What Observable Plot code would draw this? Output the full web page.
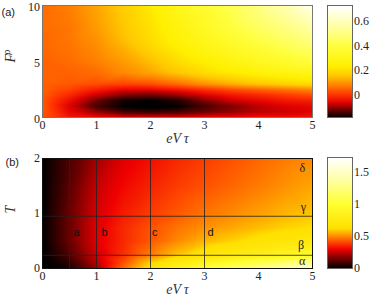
<!DOCTYPE html>
<html><head><meta charset="utf-8">
<script src="https://cdn.jsdelivr.net/npm/d3@7"></script>
<script src="https://cdn.jsdelivr.net/npm/@observablehq/plot@0.6"></script>
<style>
body{margin:0;background:#fff;}
#wrap{position:relative;width:374px;height:300px;overflow:hidden;background:#fff;}
#wrap > svg{position:absolute;}
</style></head><body><div id="wrap"></div>
<script>
// ---------- data ----------
const eVtauA = [0,0.5,1,1.5,2,2.5,3,3.5,4,4.5,5];
const FrhoA = [0,0.5,1,1.5,2,2.5,3,4,5,6,7,8,9,10];
const valuesA = [
  [0.03,-0.03,-0.05,-0.06,-0.06,-0.06,-0.05,-0.05,-0.04,-0.04,-0.03],
  [0.04,-0.05,-0.10,-0.14,-0.15,-0.14,-0.12,-0.10,-0.08,-0.07,-0.06],
  [0.04,-0.06,-0.14,-0.18,-0.19,-0.18,-0.14,-0.11,-0.08,-0.06,-0.05],
  [0.04,-0.04,-0.12,-0.17,-0.18,-0.16,-0.11,-0.07,-0.05,-0.03,-0.02],
  [0.045,-0.01,-0.07,-0.11,-0.12,-0.10,-0.06,-0.03,-0.01,0.01,0.03],
  [0.05,0.02,-0.02,-0.05,-0.05,-0.03,0.00,0.03,0.05,0.07,0.09],
  [0.05,0.04,0.03,0.02,0.03,0.06,0.10,0.13,0.16,0.18,0.20],
  [0.05,0.05,0.06,0.09,0.12,0.16,0.20,0.23,0.26,0.28,0.30],
  [0.05,0.06,0.08,0.11,0.15,0.20,0.24,0.28,0.32,0.35,0.39],
  [0.055,0.065,0.09,0.13,0.18,0.23,0.28,0.32,0.36,0.41,0.45],
  [0.055,0.07,0.10,0.15,0.20,0.26,0.31,0.36,0.41,0.46,0.51],
  [0.06,0.07,0.11,0.16,0.21,0.27,0.33,0.39,0.45,0.50,0.56],
  [0.06,0.075,0.115,0.165,0.22,0.29,0.34,0.41,0.48,0.54,0.62],
  [0.06,0.08,0.12,0.17,0.23,0.30,0.36,0.43,0.50,0.58,0.68]
];
const eVtauB = [0,0.25,0.5,1,1.5,2,2.5,3,3.5,4,4.5,5];
const TB = [0,0.1,0.25,0.5,0.75,1,1.5,2];
const valuesB = [
  [0,0.01,0.04,0.20,0.45,0.65,0.85,1.00,1.15,1.30,1.45,1.60],
  [0,0.02,0.06,0.23,0.42,0.60,0.75,0.88,1.00,1.10,1.20,1.30],
  [0,0.05,0.11,0.26,0.37,0.48,0.58,0.66,0.73,0.80,0.87,0.95],
  [0,0.07,0.14,0.28,0.36,0.43,0.50,0.56,0.60,0.65,0.68,0.72],
  [0,0.07,0.14,0.28,0.36,0.42,0.47,0.51,0.54,0.57,0.60,0.62],
  [0,0.07,0.14,0.27,0.34,0.39,0.43,0.47,0.50,0.53,0.56,0.58],
  [0,0.06,0.12,0.25,0.31,0.35,0.39,0.42,0.45,0.48,0.51,0.54],
  [0,0.05,0.10,0.21,0.28,0.32,0.36,0.39,0.42,0.45,0.48,0.50]
];
const xTicks = [0,1,2,3,4,5];
const yTicksA = [0,5,10];
const yTicksB = [0,1,2];
const cbTicksA = [0,0.2,0.4,0.6];
const cbTicksB = [0,0.5,1,1.5];
const cutsX = [0.5,1,2,3];
const cutsT = [0.95,0.24];
const regionLabels = ["a","b","c","d"];
const regionX = [0.63,1.15,2.08,3.11];
const regionT = [0.655,0.655,0.655,0.655];
const greekLabels = ["δ","γ","β","α"];
const greekX = [4.81,4.83,4.79,4.81];
const greekT = [1.82,1.11,0.42,0.13];
const cbRangeA = [-0.18,0.725];
const cbRangeB = [0,1.72];
const xLabel = "eV\u2009τ";

// ---------- styles ----------
const colorA = {type:"linear", clamp:true,
  domain:[-0.18,-0.12,-0.06,0,0.08,0.16,0.24,0.4,0.55,0.72],
  range:["#000000","#6a0000","#e00000","#ff3000","#ff8000","#ffc800","#fff000","#ffff40","#ffffa0","#ffffff"]};
const colorB = {type:"linear", clamp:true,
  domain:[0,0.15,0.3,0.42,0.52,0.62,1.0,1.35,1.72],
  range:["#000000","#700000","#f00000","#ff5000","#ff9800","#ffe000","#ffff30","#ffffa0","#ffffff"]};
const serif = "Liberation Serif";
const sans = "Liberation Sans";
const tick = {tickSize:0,label:null,tickFormat:d=>String(d),fill:"#222",fontFamily:serif,fontSize:12};

const gridA = FrhoA.flatMap((f,i)=>eVtauA.map((e,j)=>({x:e,y:f,v:valuesA[i][j]})));
const gridB = TB.flatMap((t,i)=>eVtauB.map((e,j)=>({x:e,y:t,v:valuesB[i][j]})));

const wrap = document.getElementById("wrap");
function place(svg,left,top){svg.style.left=left+"px";svg.style.top=top+"px";wrap.appendChild(svg);}

const plotA = Plot.plot({
  width:320,height:150,marginLeft:42,marginRight:8,marginTop:5,marginBottom:33,
  style:{fontFamily:serif,fontSize:"12px",background:"transparent"},
  x:{domain:[0,5]}, y:{domain:[0,10]}, color:colorA,
  marks:[
    Plot.raster(gridA,{x:"x",y:"y",fill:"v",interpolate:"barycentric",x1:0,x2:5,y1:0,y2:10,pixelSize:1}),
    Plot.frame({stroke:"#777"}),
    Plot.axisX({...tick,ticks:xTicks,tickPadding:2.5}),
    Plot.axisY({...tick,ticks:yTicksA,tickPadding:2.5,dy:2}),
    Plot.text([xLabel],{frameAnchor:"bottom",dy:25,text:d=>d,fontFamily:serif,fontStyle:"italic",fontSize:14,fill:"#333"}),
    Plot.text(["F"],{frameAnchor:"left",dx:-32,dy:1,text:d=>d,rotate:-90,fontFamily:serif,fontStyle:"italic",fontSize:14,fill:"#333"}),
    Plot.text(["ρ"],{frameAnchor:"left",dx:-36,dy:-7,text:d=>d,rotate:-90,fontFamily:serif,fontStyle:"italic",fontSize:10,fill:"#333"}),
    Plot.text(["(a)"],{frameAnchor:"top-left",dx:-41,dy:3,text:d=>d,textAnchor:"start",fontFamily:sans,fontSize:11,fill:"#222"})
  ]
});
place(plotA,0,0);

const cbA = Plot.plot({
  width:54,height:150,marginLeft:7,marginRight:22,marginTop:5,marginBottom:33,
  style:{fontFamily:serif,fontSize:"12px",background:"transparent"},
  x:{domain:[0,1],axis:null}, y:{domain:cbRangeA}, color:colorA,
  marks:[
    Plot.raster({x1:0,x2:1,y1:cbRangeA[0],y2:cbRangeA[1],fill:(x,y)=>y,pixelSize:1}),
    Plot.frame({stroke:"#666"}),
    Plot.axisY({...tick,anchor:"right",ticks:cbTicksA,tickPadding:1.5})
  ]
});
place(cbA,320,0);

const plotB = Plot.plot({
  width:320,height:150,marginLeft:42,marginRight:8,marginTop:8,marginBottom:32,
  style:{fontFamily:serif,fontSize:"12px",background:"transparent"},
  x:{domain:[0,5]}, y:{domain:[0,2]}, color:colorB,
  marks:[
    Plot.raster(gridB,{x:"x",y:"y",fill:"v",interpolate:"barycentric",x1:0,x2:5,y1:0,y2:2,pixelSize:1}),
    Plot.ruleX(cutsX,{stroke:"#222",strokeWidth:0.8}),
    Plot.ruleY(cutsT,{stroke:"#222",strokeWidth:0.8}),
    Plot.frame({stroke:"#111"}),
    Plot.text(regionLabels,{x:(d,i)=>regionX[i],y:(d,i)=>regionT[i],text:d=>d,fontFamily:sans,fontSize:11,fill:"#111"}),
    Plot.text(greekLabels,{x:(d,i)=>greekX[i],y:(d,i)=>greekT[i],text:d=>d,fontFamily:serif,fontSize:12,fill:"#222"}),
    Plot.axisX({...tick,ticks:xTicks,tickPadding:3}),
    Plot.axisY({...tick,ticks:yTicksB,tickPadding:2.5}),
    Plot.text([xLabel],{frameAnchor:"bottom",dy:25.5,text:d=>d,fontFamily:serif,fontStyle:"italic",fontSize:14,fill:"#333"}),
    Plot.text(["T"],{frameAnchor:"left",dx:-32,text:d=>d,rotate:-90,fontFamily:serif,fontStyle:"italic",fontSize:14,fill:"#333"}),
    Plot.text(["(b)"],{frameAnchor:"top-left",dx:-37,dy:0,text:d=>d,textAnchor:"start",fontFamily:sans,fontSize:11,fill:"#222"})
  ]
});
place(plotB,0,150);

const cbB = Plot.plot({
  width:54,height:150,marginLeft:7,marginRight:22,marginTop:7,marginBottom:32,
  style:{fontFamily:serif,fontSize:"12px",background:"transparent"},
  x:{domain:[0,1],axis:null}, y:{domain:cbRangeB}, color:colorB,
  marks:[
    Plot.raster({x1:0,x2:1,y1:cbRangeB[0],y2:cbRangeB[1],fill:(x,y)=>y,pixelSize:1}),
    Plot.frame({stroke:"#666"}),
    Plot.axisY({...tick,anchor:"right",ticks:cbTicksB,tickPadding:1.5})
  ]
});
place(cbB,320,150);
</script></body></html>
